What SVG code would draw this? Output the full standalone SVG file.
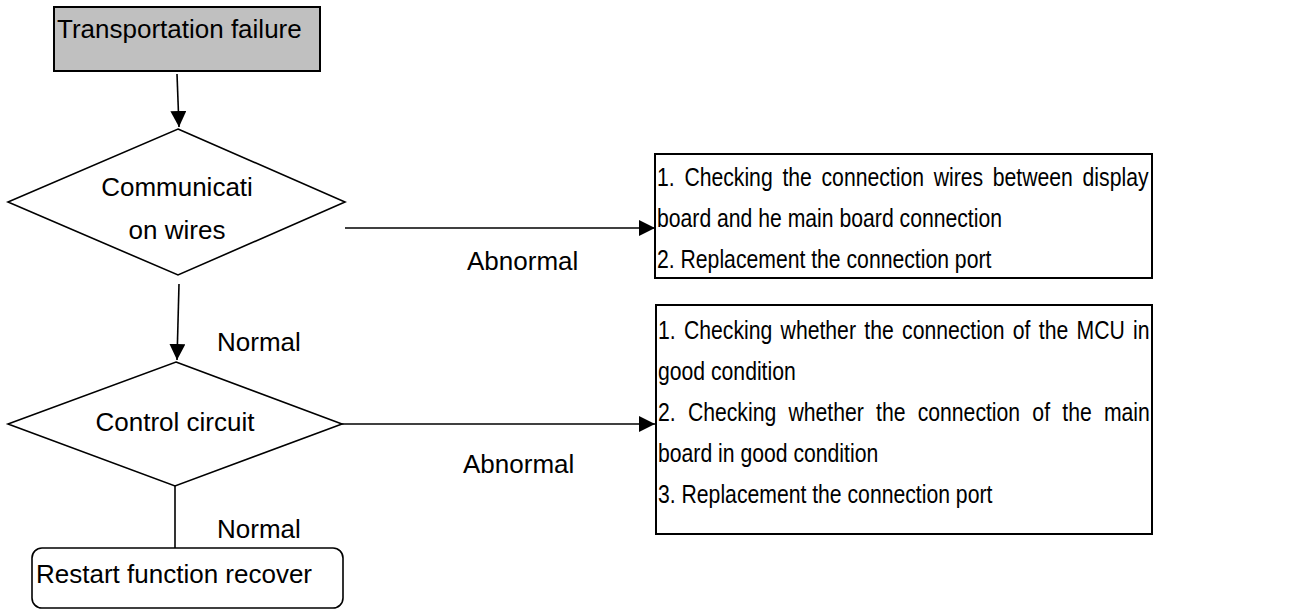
<svg xmlns="http://www.w3.org/2000/svg" width="1296" height="609" viewBox="0 0 1296 609">
  <style>
    .shape { fill: #ffffff; stroke: #000000; stroke-width: 1.6; }
    .start { fill: #c0c0c0; stroke: #000000; stroke-width: 2; }
    .note { fill: #ffffff; stroke: #000000; stroke-width: 2; }
    .wire { fill: none; stroke: #000000; stroke-width: 1.6; }
    text { font-family: "Liberation Sans", Arial, sans-serif; font-size: 26px; fill: #000000; }
  </style>
  <defs>
    <marker id="arrow" markerUnits="userSpaceOnUse" markerWidth="18" markerHeight="16" refX="16" refY="8" orient="auto">
      <path d="M0,0 L16,8 L0,16 Z" fill="#000000"/>
    </marker>
  </defs>

  <rect width="1296" height="609" fill="#ffffff"/>

  <!-- connectors -->
  <g id="connectors">
    <line class="wire" x1="177" y1="74" x2="179" y2="127" marker-end="url(#arrow)"/>
    <line class="wire" x1="345" y1="228" x2="655" y2="228" marker-end="url(#arrow)"/>
    <line class="wire" x1="179" y1="284" x2="177" y2="360" marker-end="url(#arrow)"/>
    <line class="wire" x1="342" y1="424" x2="655" y2="424" marker-end="url(#arrow)"/>
    <line class="wire" x1="175" y1="486" x2="175" y2="548"/>
    <text x="467" y="270">Abnormal</text>
    <text x="217" y="351">Normal</text>
    <text x="463" y="473">Abnormal</text>
    <text x="217" y="538">Normal</text>
  </g>

  <!-- start: transportation failure -->
  <g id="node-start">
    <rect class="start" x="54" y="7" width="266" height="64"/>
    <text x="57" y="38">Transportation failure</text>
  </g>

  <!-- decision: communication wires -->
  <g id="node-wires">
    <polygon class="shape" points="178,129 345,202 178,275 8,202"/>
    <text x="177" y="196" text-anchor="middle">Communicati</text>
    <text x="177" y="239" text-anchor="middle">on wires</text>
  </g>

  <!-- decision: control circuit -->
  <g id="node-control">
    <polygon class="shape" points="176,362 342,424 175,486 8,424"/>
    <text x="175" y="431" text-anchor="middle">Control circuit</text>
  </g>

  <!-- end: restart -->
  <g id="node-restart">
    <rect class="shape" x="32" y="548" width="311" height="60" rx="10" ry="10"/>
    <text x="36" y="583">Restart function recover</text>
  </g>

  <!-- action box: wiring checks -->
  <g id="node-wire-actions">
    <rect class="note" x="655" y="154" width="497" height="124"/>
    <g transform="translate(657,0) scale(0.815,1)">
      <text x="0" y="186" word-spacing="4.7">1. Checking the connection wires between display</text>
      <text x="0" y="227">board and he main board connection</text>
      <text x="0" y="268">2. Replacement the connection port</text>
    </g>
  </g>

  <!-- action box: control circuit checks -->
  <g id="node-control-actions">
    <rect class="note" x="656" y="305" width="496" height="229"/>
    <g transform="translate(658,0) scale(0.815,1)">
      <text x="0" y="339" word-spacing="3">1. Checking whether the connection of the MCU in</text>
      <text x="0" y="380">good condition</text>
      <text x="0" y="421" word-spacing="7.8">2. Checking whether the connection of the main</text>
      <text x="0" y="462">board in good condition</text>
      <text x="0" y="503">3. Replacement the connection port</text>
    </g>
  </g>
</svg>
